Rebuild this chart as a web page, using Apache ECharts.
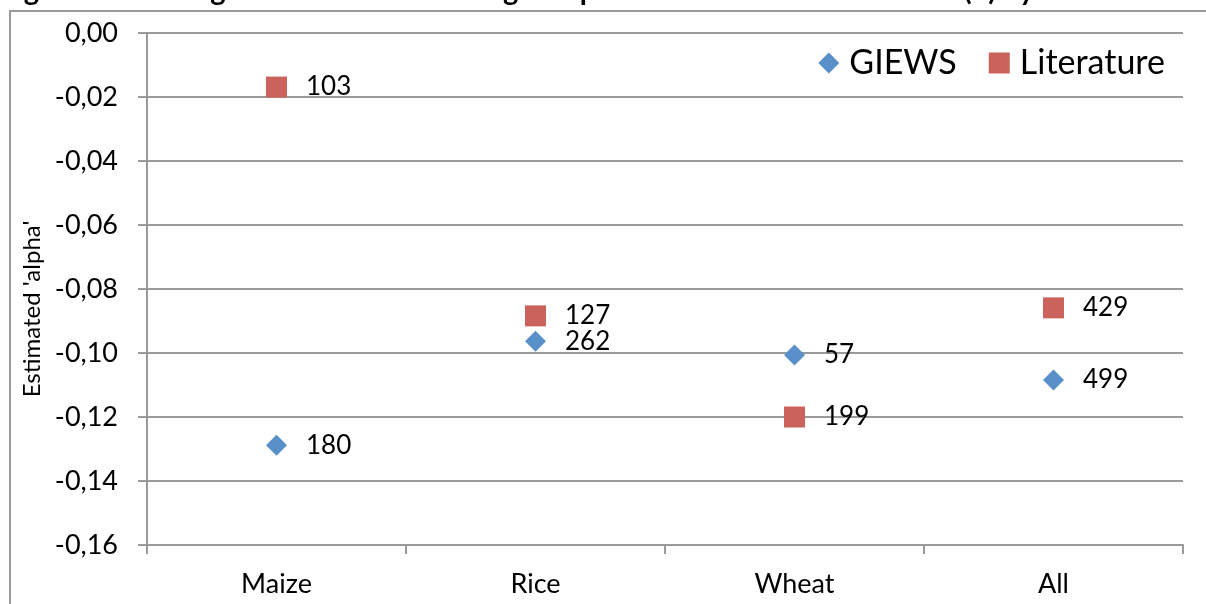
<!DOCTYPE html>
<html>
<head>
<meta charset="utf-8">
<script src="https://cdn.jsdelivr.net/npm/echarts@6/dist/echarts.min.js"></script>
<style>
  html, body { margin: 0; padding: 0; background: #fff; }
  #chart { width: 1206px; height: 604px; }
</style>
</head>
<body>
<div id="chart"></div>
<script>
// categories and the two series
const cereals = ['Maize', 'Rice', 'Wheat', 'All'];
const giewsAlpha = [-0.1288, -0.0963, -0.1006, -0.1084];
const giewsCount = [180, 262, 57, 499];
const literatureAlpha = [-0.0169, -0.0884, -0.1200, -0.0859];
const literatureCount = [103, 127, 199, 429];

const titleText = 'Figure 5b. Average estimates of the long-run price transmission coefficient (\u03b1) by cereal';
const fontFamily = 'Lato, "Open Sans", sans-serif';
const gridColor = '#9a9a9a';

const chart = echarts.init(document.getElementById('chart'), null, { renderer: 'canvas' });

function toPoints(values, counts) {
  return values.map((v, i) => ({ value: [cereals[i], v], n: counts[i] }));
}

const labelStyle = {
  show: true,
  position: 'right',
  distance: 19,
  formatter: (p) => String(p.data.n),
  color: '#000',
  fontFamily: fontFamily,
  fontSize: 26
};

const option = {
  animation: false,
  graphic: [
    {
      // caption above, mostly cut off by the top edge
      type: 'text',
      x: 0,
      y: 5,
      style: {
        text: titleText,
        font: 'bold 29px ' + fontFamily,
        fill: '#000',
        verticalAlign: 'bottom'
      },
      silent: true
    },
    {
      // outer chart frame, runs off the right and bottom edges
      type: 'rect',
      shape: { x: 10, y: 11, width: 1300, height: 700 },
      style: { fill: '#fff', stroke: gridColor, lineWidth: 2 },
      z: -10,
      silent: true
    }
  ],
  legend: {
    right: 41,
    top: 43,
    padding: 0,
    itemGap: 32,
    itemWidth: 21,
    itemHeight: 21,
    textStyle: {
      fontFamily: fontFamily,
      fontSize: 34,
      color: '#000',
      lineHeight: 40,
      padding: [0, 0, 0, 5]
    },
    data: [
      { name: 'GIEWS', icon: 'diamond' },
      { name: 'Literature', icon: 'rect' }
    ]
  },
  grid: {
    left: 147,
    right: 23,
    top: 33,
    bottom: 59,
    containLabel: false
  },
  xAxis: {
    type: 'category',
    data: cereals,
    boundaryGap: true,
    axisLine: { onZero: false, lineStyle: { color: gridColor, width: 2 } },
    axisTick: { show: true, length: 9, lineStyle: { color: gridColor, width: 2 } },
    axisLabel: { margin: 26, color: '#000', fontFamily: fontFamily, fontSize: 27 },
    splitLine: { show: false }
  },
  yAxis: {
    type: 'value',
    min: -0.16,
    max: 0,
    interval: 0.02,
    name: "Estimated 'alpha'",
    nameLocation: 'middle',
    nameGap: 97,
    nameTextStyle: { color: '#000', fontFamily: fontFamily, fontSize: 24, padding: [0, 40, 0, 0] },
    axisLine: { show: true, lineStyle: { color: gridColor, width: 2 } },
    axisTick: { show: true, length: 9, lineStyle: { color: gridColor, width: 2 } },
    axisLabel: {
      margin: 29,
      color: '#000',
      fontFamily: fontFamily,
      fontSize: 27,
      formatter: (v) => v.toFixed(2).replace('.', ',')
    },
    splitLine: { show: true, lineStyle: { color: gridColor, width: 2 } }
  },
  series: [
    {
      name: 'GIEWS',
      type: 'scatter',
      symbol: 'diamond',
      symbolSize: 21,
      itemStyle: { color: '#5990ca', opacity: 1 },
      label: labelStyle,
      data: toPoints(giewsAlpha, giewsCount)
    },
    {
      name: 'Literature',
      type: 'scatter',
      symbol: 'rect',
      symbolSize: 21,
      itemStyle: { color: '#cc625c', opacity: 1 },
      label: labelStyle,
      data: toPoints(literatureAlpha, literatureCount)
    }
  ]
};

chart.setOption(option);
</script>
</body>
</html>
